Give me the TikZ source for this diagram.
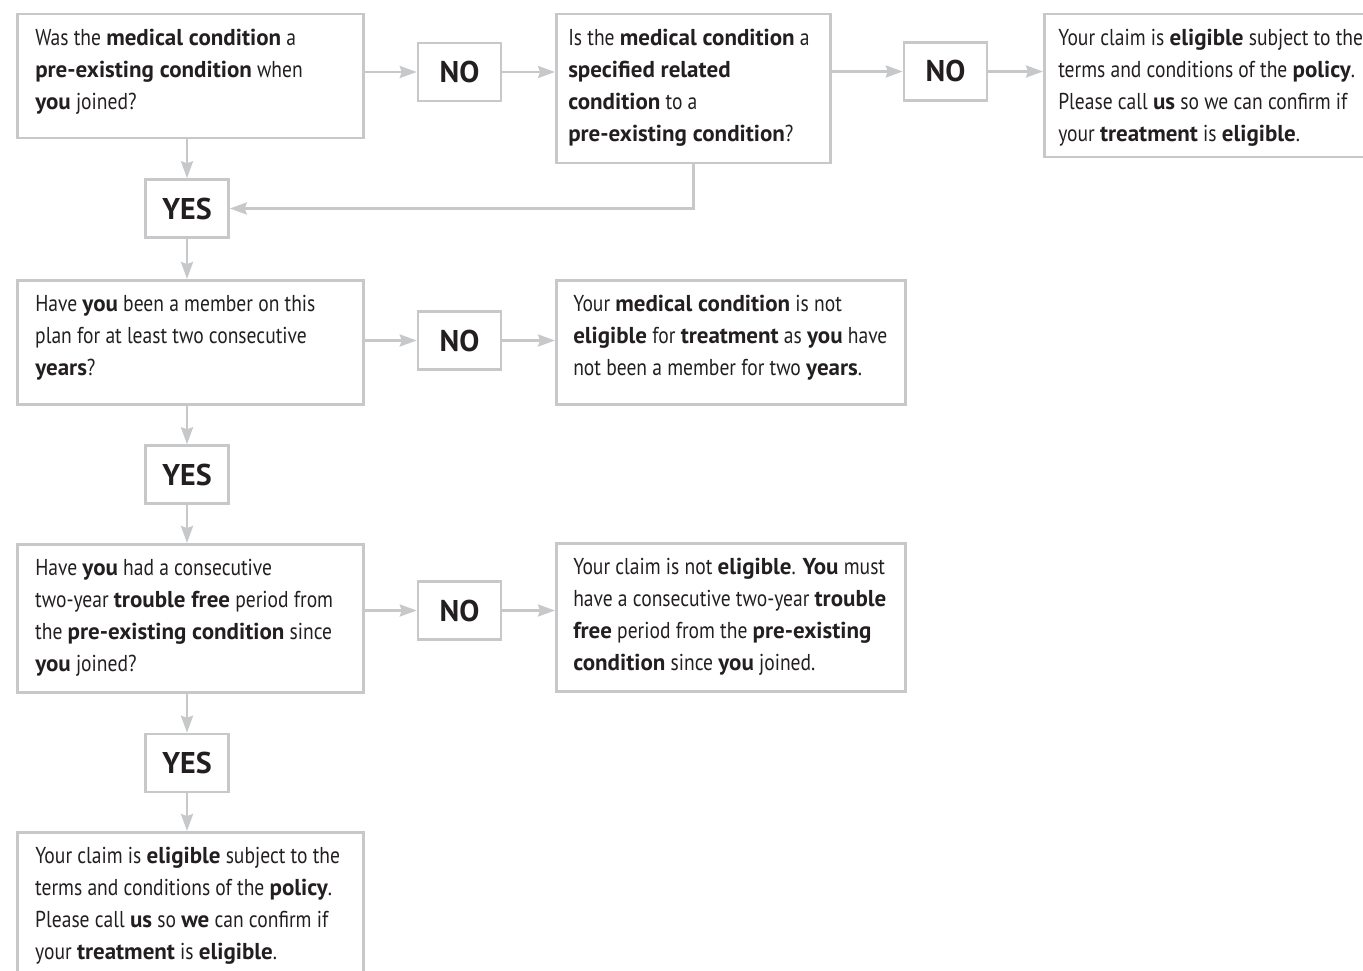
\documentclass[tikz,border=0pt]{standalone}
\usepackage{fontspec}
\setmainfont{PT Sans}[FakeStretch=0.85, BoldFeatures={FakeStretch=1.0}]
\usetikzlibrary{arrows.meta}
\definecolor{linegray}{RGB}{199,200,202}
\definecolor{inkgray}{RGB}{35,31,32}
\newcommand{\bodyfont}{\fontsize{23pt}{32pt}\selectfont}
\newcommand{\flowtext}[3]{\parbox[t][#1][t]{#2}{\raggedright\rightskip=-40pt plus 1fil\vspace*{8.8pt}\strut#3}}
\begin{document}
\begin{tikzpicture}[x=1pt, y=-1pt,
    box/.style={draw=linegray, line width=2.5pt, anchor=north west, inner ysep=0pt, text=inkgray, font=\bodyfont},
    answer/.style={draw=linegray, line width=2.5pt, minimum width=83pt, minimum height=58pt, inner sep=0pt, text=inkgray, font=\fontsize{30pt}{36pt}\selectfont\bfseries},
    flow/.style={draw=linegray, line width=2.5pt, -{Stealth[length=17pt, width=12pt, inset=2pt]}}]
    \useasboundingbox (0,0) rectangle (1363,971);

    % Question and outcome boxes
    \node[box, inner xsep=18pt] (q1) at (16,13) {\flowtext{124pt}{310pt}{Was the \textbf{medical condition} a\\ \textbf{pre-existing condition} when\\ \textbf{you} joined?}};
    \node[box, inner xsep=12pt] (q2) at (555,13) {\flowtext{149pt}{250pt}{Is the \textbf{medical condition} a\\ \textbf{specified related}\\ \textbf{condition} to a\\ \textbf{pre-existing condition}?}};
    \node[box, inner xsep=14pt] (ok1) at (1043,13) {\flowtext{143pt}{292pt}{Your claim is \textbf{eligible} subject to the\\ terms and conditions of the \textbf{policy}.\\ Please call \textbf{us} so we can confirm if\\ your \textbf{treatment} is \textbf{eligible}.}};
    \node[box, inner xsep=18pt] (q3) at (16,279) {\flowtext{124pt}{310pt}{Have \textbf{you} been a member on this\\ plan for at least two consecutive\\ \textbf{years}?}};
    \node[box, inner xsep=17pt] (no2yrs) at (555,279) {\flowtext{124pt}{315pt}{Your \textbf{medical condition} is not\\ \textbf{eligible} for \textbf{treatment} as \textbf{you} have\\ not been a member for two \textbf{years}.}};
    \node[box, inner xsep=18pt] (q4) at (16,543) {\flowtext{148pt}{310pt}{Have \textbf{you} had a consecutive\\ two-year \textbf{trouble free} period from\\ the \textbf{pre-existing condition} since\\ \textbf{you} joined?}};
    \node[box, inner xsep=17pt] (notok) at (555,542) {\flowtext{148pt}{315pt}{Your claim is not \textbf{eligible}. \textbf{You} must\\ have a consecutive two-year \textbf{trouble}\\ \textbf{free} period from the \textbf{pre-existing}\\ \textbf{condition} since \textbf{you} joined.}};
    \node[box, inner xsep=18pt] (ok2) at (16,831) {\flowtext{160pt}{310pt}{Your claim is \textbf{eligible} subject to the\\ terms and conditions of the \textbf{policy}.\\ Please call \textbf{us} so \textbf{we} can confirm if\\ your \textbf{treatment} is \textbf{eligible}.}};

    % Answers
    \node[answer] (no1) at (459.5,72) {NO};
    \node[answer] (no2) at (945.5,71.5) {NO};
    \node[answer] (yes1) at (187,208.5) {YES};
    \node[answer] (no3) at (459.5,340.5) {NO};
    \node[answer] (yes2) at (187,474.5) {YES};
    \node[answer] (no4) at (459.5,610.5) {NO};
    \node[answer] (yes3) at (187,763) {YES};

    % Connectors
    \draw[flow] (no1.west -| q1.east) -- (no1.west);
    \draw[flow] (no1.east) -- (no1.east -| q2.west);
    \draw[flow] (no2.west -| q2.east) -- (no2.west);
    \draw[flow] (no2.east) -- (no2.east -| ok1.west);
    \draw[flow] (q1.south -| yes1.north) -- (yes1.north);
    \draw[flow] (q2.south) |- (yes1.east);
    \draw[flow] (yes1.south) -- (yes1.south |- q3.north);
    \draw[flow] (no3.west -| q3.east) -- (no3.west);
    \draw[flow] (no3.east) -- (no3.east -| no2yrs.west);
    \draw[flow] (q3.south -| yes2.north) -- (yes2.north);
    \draw[flow] (yes2.south) -- (yes2.south |- q4.north);
    \draw[flow] (no4.west -| q4.east) -- (no4.west);
    \draw[flow] (no4.east) -- (no4.east -| notok.west);
    \draw[flow] (q4.south -| yes3.north) -- (yes3.north);
    \draw[flow] (yes3.south) -- (yes3.south |- ok2.north);
\end{tikzpicture}
\end{document}
